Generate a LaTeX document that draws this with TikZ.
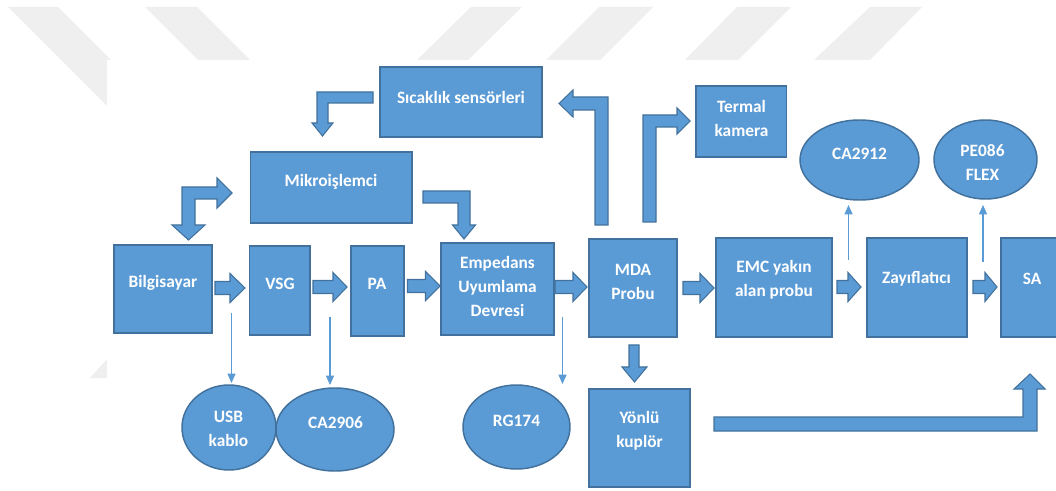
\documentclass[tikz,border=0pt]{standalone}
\usepackage{fontspec}
\setmainfont{Carlito}
\usetikzlibrary{fit,shapes.geometric,arrows.meta}
\definecolor{boxfill}{HTML}{5B9BD5}
\definecolor{boxline}{HTML}{41719C}
\definecolor{wmark}{HTML}{EFEFEF}
\tikzset{
  box/.style={draw=boxline, fill=boxfill, line width=1.1pt, inner sep=0pt, rectangle},
  ell/.style={draw=boxline, fill=boxfill, line width=1.1pt, inner sep=0pt, ellipse},
  ellnode/.style 2 args={ell, minimum width=#1*0.75pt, minimum height=#2*0.75pt},
  lbl/.style={text=white, font=\fontsize{13}{18}\selectfont\bfseries, align=center, inner sep=0pt},
  barrow/.style={draw=boxline, fill=boxfill, line width=0.8pt, line join=miter},
  thin/.style={draw=boxfill, line width=0.8pt, -{Triangle[length=7pt,width=6pt]}},
}
\newcommand\harrow[4]{\draw[barrow] (#1,#4-6.5) -- (#2,#4-6.5) -- (#2,#4-14.5) -- (#3,#4) -- (#2,#4+14.5) -- (#2,#4+6.5) -- (#1,#4+6.5) -- cycle;}
\begin{document}
\begin{tikzpicture}[x=0.75pt,y=-0.75pt]
\useasboundingbox (0,0) rectangle (1056,491);
\fill[white] (0,0) rectangle (1056,491);
% watermark
\fill[wmark] (8,7) -- (58,7) -- (157,106) -- (107,106) -- cycle;
\fill[wmark] (145,7) -- (197,7) -- (250,60) -- (198,60) -- cycle;
\fill[wmark] (471,7) -- (522,7) -- (468,60) -- (417,60) -- cycle;
\fill[wmark] (599,7) -- (653,7) -- (600,60) -- (546,60) -- cycle;
\fill[wmark] (737,7) -- (791,7) -- (738,60) -- (685,60) -- cycle;
\fill[wmark] (870,7) -- (922,7) -- (870,60) -- (814,60) -- cycle;
\fill[wmark] (108,358) -- (90,378) -- (108,378) -- cycle;
\fill[white] (107,60) rectangle (1060,495);

% boxes
\node[box, fit={(114,245) (212,333)}] (bilg) {};
\node[box, fit={(249.5,246) (310,335)}] (vsg) {};
\node[box, fit={(351,246) (404,336)}] (pa) {};
\node[box, fit={(441,243) (554,335)}] (emp) {};
\node[box, fit={(589,239) (677,337)}] (mda) {};
\node[box, fit={(716,238) (832,337)}] (emc) {};
\node[box, fit={(867,238) (967,337)}] (zay) {};
\node[box, fit={(1001,238) (1062,337)}] (sa) {};
\node[box, fit={(589,389) (690,487)}] (yon) {};
\node[box, fit={(380,67) (542,137)}] (sic) {};
\node[box, fit={(250.5,152) (412,223)}] (mik) {};
\node[box, fit={(696,86) (786.5,157)}] (ter) {};

% ellipses
\node[ellnode={94}{85}] (usb) at (229,427.5) {};
\node[ellnode={118}{83}] (ca2906) at (335,429.5) {};
\node[ellnode={107}{84}] (rg) at (516.5,427) {};
\node[ellnode={119}{80}] (ca2912) at (859.5,160) {};
\node[ellnode={103}{79}] (pe) at (985.5,159.5) {};

% labels
\node[lbl] (bilgT) at (163,283) {Bilgisayar};
\node[lbl] (vsgT) at (280,284) {VSG};
\node[lbl] (paT) at (377,284) {PA};
\node[lbl] (empT) at (497.5,286) {Empedans\\Uyumlama\\Devresi};
\node[lbl] (mdaT) at (633,281.5) {MDA\\Probu};
\node[lbl] (emcT) at (774,280) {EMC yakın\\alan probu};
\node[lbl] (zayT) at (916.5,279) {Zayıflatıcı};
\node[lbl] (saT) at (1032,279) {SA};
\node[lbl] (yonT) at (639.5,430.5) {Yönlü\\kuplör};
\node[lbl] (sicT) at (461,97) {Sıcaklık sensörleri};
\node[lbl] (mikT) at (331,182) {Mikroişlemci};
\node[lbl] (terT) at (741.5,118) {Termal\\kamera};
\node[lbl] (usbT) at (228.5,429) {USB\\kablo};
\node[lbl] (ca2906T) at (335.5,423) {CA2906};
\node[lbl] (rgT) at (516.5,421) {RG174};
\node[lbl] (ca2912T) at (859.5,154) {CA2912};
\node[lbl] (peT) at (982.5,162.5) {PE086\\FLEX};

% straight block arrows
\harrow{215}{230}{245}{288}
\harrow{313}{333}{347}{287}
\harrow{407.5}{425.5}{440}{286}
\harrow{555}{573}{587}{287}
\harrow{683}{700}{714}{288}
\harrow{837}{848}{861}{287}
\harrow{973}{985}{997}{287}
% MDA -> Yonlu
\draw[barrow] (629,345) -- (639,345) -- (639,367) -- (647,367) -- (634.5,382) -- (622,367) -- (629,367) -- cycle;
% Yonlu -> SA
\draw[barrow] (714,417) -- (1023,417) -- (1023,389) -- (1014,389) -- (1030,374) -- (1045,389) -- (1037,389) -- (1037,431) -- (714,431) -- cycle;
% Sicaklik -> Mikro
\draw[barrow] (373,92) -- (317,92) -- (317,123) -- (312,123) -- (322.5,136) -- (333,123) -- (328,123) -- (328,103) -- (373,103) -- cycle;
% Mikro <-> Bilgisayar
\draw[barrow] (217,187) -- (217,178) -- (232,193) -- (217,208) -- (217,199) -- (195,199) -- (195,225) -- (205,225) -- (188.5,240) -- (172,225) -- (182,225) -- (182,187) -- cycle;
% Mikro -> Empedans
\draw[barrow] (423,191) -- (470,191) -- (470,225) -- (475.5,225) -- (464,239) -- (452.5,225) -- (458,225) -- (458,203) -- (423,203) -- cycle;
% MDA -> Sicaklik
\draw[barrow] (595,225) -- (595,110) -- (573,110) -- (573,117) -- (559,103.5) -- (573,90) -- (573,97) -- (608,97) -- (608,225) -- cycle;
% MDA -> Termal
\draw[barrow] (643,222) -- (643,115) -- (677,115) -- (677,108) -- (690,121) -- (677,134) -- (677,127) -- (656,127) -- (656,222) -- cycle;

% thin arrows
\coordinate (t1a) at (231.5,313); \coordinate (t1b) at (231.5,383);
\coordinate (t2a) at (330,317); \coordinate (t2b) at (330,385);
\coordinate (t3a) at (562.5,317); \coordinate (t3b) at (562.5,384);
\coordinate (t4a) at (848.5,260); \coordinate (t4b) at (848.5,205);
\coordinate (t5a) at (983,262); \coordinate (t5b) at (983,205);
\draw[thin] (t1a) -- (t1b);
\draw[thin] (t2a) -- (t2b);
\draw[thin] (t3a) -- (t3b);
\draw[thin] (t4a) -- (t4b);
\draw[thin] (t5a) -- (t5b);
\end{tikzpicture}
\end{document}
